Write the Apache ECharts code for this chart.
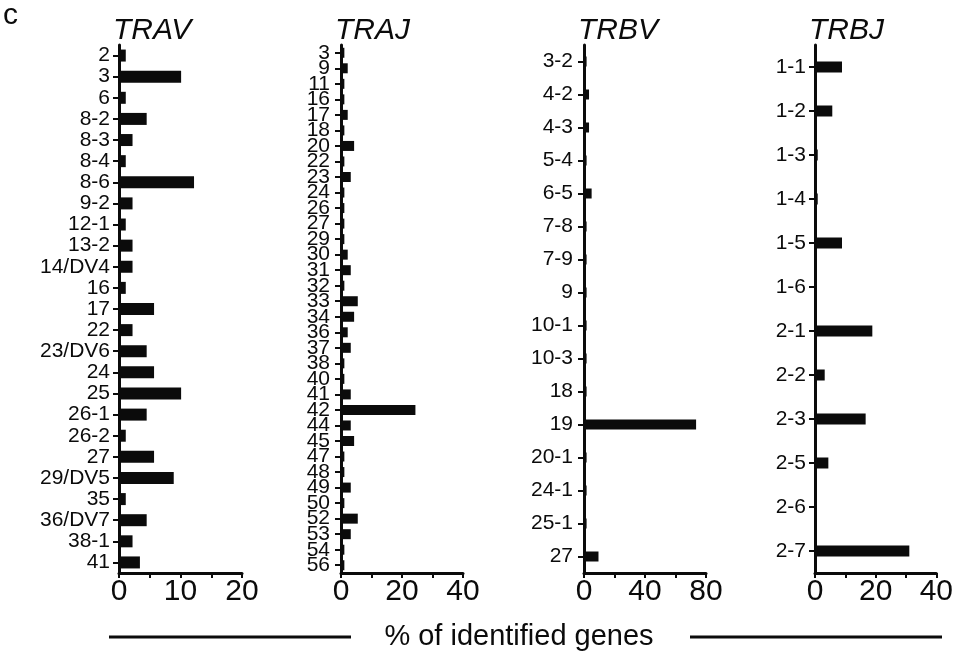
<!DOCTYPE html>
<html>
<head>
<meta charset="utf-8">
<script src="https://cdn.jsdelivr.net/npm/echarts@6/dist/echarts.min.js"></script>
<style>
  html, body { margin: 0; padding: 0; background: #fff; }
  #chart { width: 956px; height: 653px; }
</style>
</head>
<body>
<div id="chart"></div>
<script>
// gene segments and % of identified genes
const travGenes = ['2', '3', '6', '8-2', '8-3', '8-4', '8-6', '9-2', '12-1', '13-2', '14/DV4', '16', '17', '22',
  '23/DV6', '24', '25', '26-1', '26-2', '27', '29/DV5', '35', '36/DV7', '38-1', '41'];
const travPct = [1.1, 10.1, 1.1, 4.5, 2.2, 1.1, 12.2, 2.2, 1.1, 2.2, 2.2, 1.1, 5.7, 2.2,
  4.5, 5.7, 10.1, 4.5, 1.1, 5.7, 8.9, 1.1, 4.5, 2.2, 3.4];

const trajGenes = ['3', '9', '11', '16', '17', '18', '20', '22', '23', '24', '26', '27', '29', '30', '31', '32', '33',
  '34', '36', '37', '38', '40', '41', '42', '44', '45', '47', '48', '49', '50', '52', '53', '54', '56'];
const trajPct = [1.1, 2.2, 1.1, 1.1, 2.2, 1.1, 4.3, 1.1, 3.2, 1.1, 1.1, 1.1, 1.1, 2.2, 3.2, 1.1, 5.5,
  4.3, 2.2, 3.2, 1.1, 1.1, 3.2, 24.4, 3.2, 4.3, 1.1, 1.1, 3.2, 1.1, 5.5, 3.2, 1.1, 1.1];

const trbvGenes = ['3-2', '4-2', '4-3', '5-4', '6-5', '7-8', '7-9', '9', '10-1', '10-3', '18', '19', '20-1', '24-1', '25-1', '27'];
const trbvPct = [1.7, 3.3, 3.3, 1.7, 5, 1.7, 1.7, 1.7, 1.7, 1.7, 1.7, 73.5, 1.7, 1.7, 1.7, 9.5];

const trbjGenes = ['1-1', '1-2', '1-3', '1-4', '1-5', '1-6', '2-1', '2-2', '2-3', '2-5', '2-6', '2-7'];
const trbjPct = [8.9, 5.7, 0.9, 0.9, 8.9, 0, 18.9, 3.2, 16.7, 4.4, 0, 31.1];

const panelNames = ['TRAV', 'TRAJ', 'TRBV', 'TRBJ'];
const xMax = [20, 40, 80, 40];
const xStep = [5, 10, 20, 10];
const xLabelStep = [10, 20, 40, 20];

const FONT = 'Liberation Sans, Arial, sans-serif';
const INK = '#0b0b0b';

const panels = [
  { genes: travGenes, pct: travPct, left: 119, width: 123, labelSize: 21, margin: 9, bar: 12 },
  { genes: trajGenes, pct: trajPct, left: 341, width: 122, labelSize: 21, margin: 11, bar: 10 },
  { genes: trbvGenes, pct: trbvPct, left: 584, width: 122, labelSize: 21, margin: 11, bar: 10 },
  { genes: trbjGenes, pct: trbjPct, left: 815, width: 122, labelSize: 21, margin: 9, bar: 11 }
];

const chart = echarts.init(document.getElementById('chart'));

const option = {
  animation: false,
  backgroundColor: '#fff',
  title: [
    { text: 'c', left: 3, top: 1, padding: 0,
      textStyle: { fontFamily: FONT, fontSize: 30, fontWeight: 'normal', color: INK } }
  ].concat(panels.map((p, i) => ({
    text: panelNames[i], left: p.left - 6, top: 16, padding: 0,
    textStyle: { fontFamily: FONT, fontSize: 30, fontStyle: 'italic', fontWeight: 'normal', color: INK }
  }))),
  grid: panels.map(p => ({ left: p.left, width: p.width, top: 45, bottom: 80, containLabel: false })),
  xAxis: panels.map((p, i) => ({
    type: 'value', gridIndex: i, min: 0, max: xMax[i], interval: xStep[i],
    splitLine: { show: false },
    axisLine: { show: true, lineStyle: { color: INK, width: 3 } },
    axisTick: { show: true, length: 5, lineStyle: { color: INK, width: 2 } },
    axisLabel: {
      margin: 4, fontFamily: FONT, fontSize: 30, color: INK,
      formatter: v => (v % xLabelStep[i] === 0 ? String(v) : '')
    }
  })),
  yAxis: panels.map((p, i) => ({
    type: 'category', gridIndex: i, data: p.genes, inverse: true,
    axisLine: { show: true, lineStyle: { color: INK, width: 3 } },
    axisTick: { show: true, alignWithLabel: true, length: 6, lineStyle: { color: INK, width: 2 } },
    axisLabel: { interval: 0, margin: p.margin, fontFamily: FONT, fontSize: p.labelSize, color: INK }
  })),
  series: panels.map((p, i) => ({
    type: 'bar', xAxisIndex: i, yAxisIndex: i, data: p.pct,
    barWidth: p.bar, itemStyle: { color: INK }, silent: true
  })),
  graphic: [
    { type: 'line', shape: { x1: 109, y1: 637, x2: 351, y2: 637 }, style: { stroke: INK, lineWidth: 3 } },
    { type: 'line', shape: { x1: 690, y1: 637, x2: 942, y2: 637 }, style: { stroke: INK, lineWidth: 3 } },
    { type: 'text', x: 519, y: 637,
      style: { text: '% of identified genes', fontFamily: FONT, fontSize: 29, fill: INK, align: 'center', verticalAlign: 'middle' } }
  ]
};

chart.setOption(option);
</script>
</body>
</html>
